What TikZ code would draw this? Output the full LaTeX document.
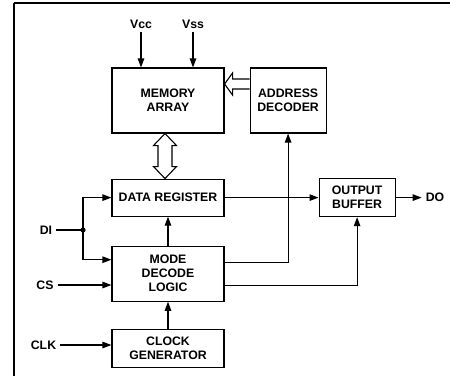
\documentclass[tikz,border=0pt]{standalone}
\usepackage{fontspec}
\setmainfont{Liberation Sans}
\usetikzlibrary{positioning,arrows.meta,calc}

\begin{document}
\begin{tikzpicture}[
		x=1pt, y=-1pt,
		node distance=27pt,
		every node/.style={
			font=\fontsize{12.3pt}{14pt}\selectfont\bfseries,
			align=center,
			inner sep=4pt
		},
		block/.style={
			draw,
			line width=1.1pt,
			inner sep=1pt,
			minimum width=112pt
		},
		arr/.style={
			line width=1.1pt,
			-{Triangle[length=9pt,width=6.5pt]}
		},
		hollow/.style={
			draw,
			line width=1.1pt,
			fill=white,
			line join=miter
		}
		]
		\useasboundingbox (0,0) rectangle (450,376);
		
		% frame
		\draw[line width=1.8pt] (450,3) -- (14,3);
		\draw[line width=1.3pt] (14,3) -- (14,376);
		
		\node[block, minimum height=65pt] (mem) at (168,100.5) {MEMORY\\ARRAY};
		\node[block, minimum width=76pt, minimum height=65pt] (addr) [right=25pt of mem] {ADDRESS\\DECODER};
		\node[block, minimum height=37pt] (dreg) [below=45pt of mem] {DATA REGISTER};
		\node[block, minimum height=55pt] (mode) [below=29pt of dreg] {MODE\\DECODE\\LOGIC};
		\node[block, minimum height=38pt] (clkgen) [below=of mode] {CLOCK\\GENERATOR};
		\node[block, minimum width=76pt, minimum height=38pt] (obuf) [right=94pt of dreg] {OUTPUT\\BUFFER};
		
		\node (vcc) at (141,24) {Vcc};
		\node (vss) at (193,24) {Vss};
		\node (di) at (46,230) {DI};
		\node (cs) at (45,285) {CS};
		\node (clkin) at (43.5,345) {CLK};
		\node (do) [right=26pt of obuf] {DO};
		\coordinate (split) at (83,230);
		
		\draw[arr] (vcc.south) -- (vcc.south |- mem.north);
		\draw[arr] (vss.south) -- (vss.south |- mem.north);
		
		\draw[line width=1.1pt] (di.east) -- (split);
		\fill (split) circle (2.6pt);
		\draw[arr] (split) |- (dreg.west);
		\draw[arr] (split) |- ([yshift=14pt]mode.west);
		\draw[arr] (cs.east) -- (cs.east -| mode.west);
		\draw[arr] (clkin.east) -- (clkin.east -| clkgen.west);
		
		\draw[arr] (mode.north) -- (dreg.south);
		\draw[arr] (clkgen.north) -- (mode.south);
		\draw[arr] (dreg.east) -- (obuf.west);
		\draw[arr] (obuf.east) -- (do.west);
		\draw[arr] ([yshift=11.5pt]mode.east) -| (addr.south);
		\draw[arr] ([yshift=-11.5pt]mode.east) -| (obuf.south);
		
		% wide arrows
		\draw[hollow] ($(addr.west)+(0,-21.5)$) -- ($(mem.east)+(8,-21.5)$) -- ($(mem.east)+(8,-27.5)$) -- ($(mem.east)+(0,-16.5)$) -- ($(mem.east)+(8,-5.5)$) -- ($(mem.east)+(8,-11.5)$) -- ($(addr.west)+(0,-11.5)$);
		\draw[hollow] ($(mem.south)+(-3,0)$) -- ++(11.5,12) -- ++(-4.5,0) -- ($(dreg.north)+(4,-12)$) -- ++(4.5,0) -- ($(dreg.north)+(-3,0)$) -- ++(-11.5,-12) -- ++(4.5,0) -- ($(mem.south)+(-10,12)$) -- ++(-4.5,0) -- cycle;
		
	\end{tikzpicture}
\end{document}
